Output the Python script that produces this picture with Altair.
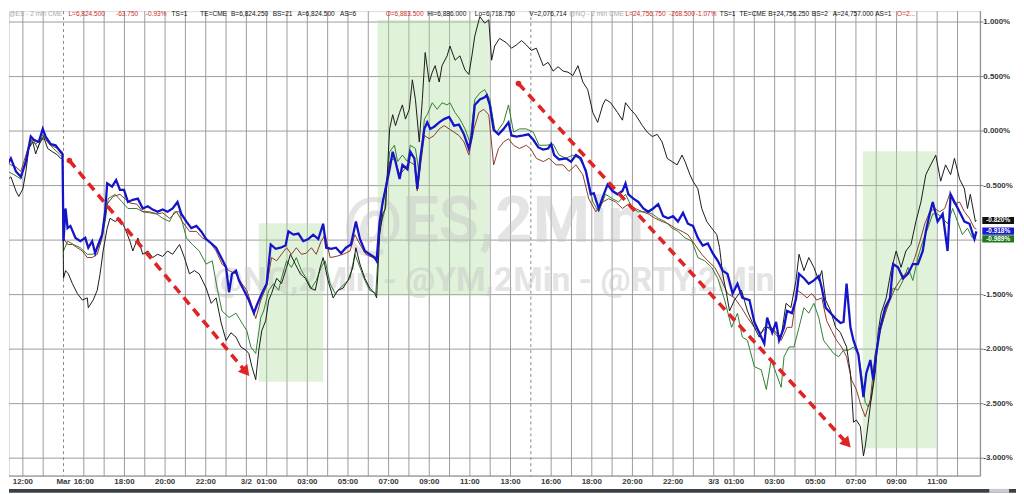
import altair as alt
import pandas as pd

# ---- series: (trading-hour index since Fri 12:00, % change) ----
es = [(-1.07,-0.28),(-0.83,-0.33),(-0.59,-0.25),(-0.34,-0.37),(-0.10,-0.42),(0.15,-0.28),(0.39,-0.05),(0.54,-0.08),(0.78,-0.10),(0.98,0.02),(1.12,-0.05),(1.37,-0.12),(1.61,-0.13),(1.85,-0.19),(1.95,-0.21),(2.00,-1.01),(2.10,-0.71),(2.20,-0.89),(2.34,-0.87),(2.59,-0.98),(2.83,-1.01),(3.07,-0.98),(3.22,-1.07),(3.41,-1.01),(3.56,-1.12),(3.71,-1.04),(3.90,-0.95),(4.05,-0.74),(4.15,-0.48),(4.39,-0.51),(4.59,-0.45),(4.78,-0.54),(4.98,-0.54),(5.17,-0.65),(5.41,-0.63),(5.66,-0.62),(5.90,-0.71),(6.15,-0.69),(6.39,-0.72),(6.63,-0.74),(6.88,-0.72),(7.12,-0.74),(7.37,-0.71),(7.61,-0.65),(7.80,-0.76),(8.05,-0.83),(8.29,-0.89),(8.54,-0.87),(8.78,-0.92),(9.02,-0.99),(9.27,-1.03),(9.51,-1.07),(9.76,-1.16),(10.00,-1.25),(10.15,-1.48),(10.29,-1.31),(10.49,-1.28),(10.63,-1.37),(10.88,-1.46),(11.12,-1.55),(11.37,-1.67),(11.51,-1.60),(11.76,-1.49),(12.00,-1.40),(12.20,-1.04),(12.44,-1.08),(12.68,-1.07),(12.93,-1.05),(13.07,-0.92),(13.32,-0.95),(13.56,-0.94),(13.80,-1.01),(14.05,-0.99),(14.29,-0.95),(14.54,-0.99),(14.78,-0.85),(14.93,-1.07),(15.17,-1.08),(15.41,-1.07),(15.66,-1.12),(15.90,-1.07),(16.15,-1.04),(16.39,-0.83),(16.59,-0.99),(16.83,-1.10),(17.07,-1.13),(17.32,-1.16),(17.41,-1.19),(17.56,-0.83),(17.71,-0.65),(17.85,-0.53),(18.05,-0.35),(18.20,-0.19),(18.34,-0.28),(18.54,-0.44),(18.68,-0.31),(18.93,-0.35),(19.07,-0.19),(19.27,-0.25),(19.41,-0.53),(19.56,-0.25),(19.76,0.02),(19.90,0.08),(20.05,0.02),(20.24,0.04),(20.49,0.08),(20.73,0.11),(20.98,0.13),(21.22,0.05),(21.46,0.06),(21.71,-0.03),(21.95,-0.16),(22.10,-0.04),(22.24,0.24),(22.49,0.29),(22.73,0.31),(22.83,0.33),(22.98,0.24),(23.17,0.01),(23.41,-0.03),(23.66,0.02),(23.90,0.08),(24.05,-0.04),(24.29,-0.05),(24.63,-0.04),(24.88,-0.03),(25.12,-0.08),(25.37,-0.15),(25.61,-0.17),(25.85,-0.16),(26.00,-0.12),(26.15,-0.22),(26.39,-0.26),(26.73,-0.25),(26.98,-0.28),(27.22,-0.22),(27.46,-0.25),(27.71,-0.37),(27.95,-0.58),(28.10,-0.57),(28.34,-0.71),(28.59,-0.58),(28.78,-0.49),(29.02,-0.55),(29.27,-0.58),(29.51,-0.55),(29.66,-0.48),(29.80,-0.58),(30.05,-0.62),(30.29,-0.65),(30.54,-0.71),(30.78,-0.74),(31.02,-0.71),(31.27,-0.67),(31.51,-0.78),(31.76,-0.80),(32.00,-0.78),(32.24,-0.83),(32.49,-0.75),(32.73,-0.85),(32.98,-0.87),(33.22,-0.98),(33.46,-1.05),(33.71,-1.03),(33.95,-1.12),(34.20,-1.19),(34.44,-1.28),(34.68,-1.31),(34.93,-1.49),(35.17,-1.40),(35.41,-1.53),(35.76,-1.55),(36.00,-1.75),(36.24,-1.85),(36.49,-1.95),(36.63,-1.71),(36.88,-1.85),(37.07,-1.75),(37.22,-1.92),(37.46,-1.80),(37.61,-1.65),(37.85,-1.67),(38.05,-1.54),(38.20,-1.31),(38.44,-1.35),(38.68,-1.40),(38.93,-1.37),(39.17,-1.33),(39.32,-1.44),(39.51,-1.62),(39.76,-1.67),(40.00,-1.72),(40.24,-1.76),(40.39,-1.75),(40.54,-1.40),(40.73,-1.80),(40.88,-1.92),(41.12,-2.05),(41.37,-2.44),(41.51,-2.22),(41.71,-2.10),(41.85,-2.28),(42.00,-2.04),(42.20,-1.80),(42.44,-1.62),(42.68,-1.53),(42.83,-1.22),(43.07,-1.25),(43.32,-1.35),(43.56,-1.31),(43.80,-1.22),(44.05,-1.22),(44.29,-1.10),(44.44,-0.92),(44.63,-0.76),(44.78,-0.65),(45.02,-0.83),(45.27,-0.76),(45.51,-1.10),(45.66,-0.58),(45.85,-0.65),(46.10,-0.74),(46.34,-0.83),(46.59,-0.85),(46.83,-0.99),(46.93,-0.92)]

nq = [(-1.07,-0.37),(-0.83,-0.46),(-0.59,-0.42),(-0.34,-0.55),(-0.20,-0.60),(0.0,-0.53),(0.15,-0.37),(0.29,-0.16),(0.49,-0.10),(0.63,-0.21),(0.78,-0.13),(1.02,-0.05),(1.22,-0.16),(1.46,-0.19),(1.71,-0.22),(1.85,-0.25),(1.95,-0.25),(2.00,-1.35),(2.10,-1.28),(2.24,-1.31),(2.44,-1.40),(2.68,-1.49),(2.93,-1.55),(3.17,-1.53),(3.22,-1.62),(3.46,-1.55),(3.66,-1.46),(3.80,-1.31),(3.95,-1.10),(4.15,-0.89),(4.29,-0.80),(4.54,-0.83),(4.78,-0.80),(5.02,-0.89),(5.27,-1.01),(5.41,-1.10),(5.66,-0.98),(5.90,-1.13),(6.15,-1.10),(6.39,-1.16),(6.63,-1.13),(6.88,-1.15),(7.12,-1.10),(7.37,-1.13),(7.71,-1.04),(7.95,-1.16),(8.20,-1.31),(8.44,-1.28),(8.68,-1.31),(9.02,-1.44),(9.27,-1.58),(9.51,-1.53),(9.76,-1.76),(10.00,-1.92),(10.24,-1.85),(10.49,-1.89),(10.73,-1.98),(10.98,-2.01),(11.12,-2.04),(11.27,-2.16),(11.46,-2.28),(11.61,-2.01),(11.76,-1.83),(11.95,-1.74),(12.10,-1.55),(12.24,-1.49),(12.49,-1.35),(12.73,-1.40),(12.98,-1.25),(13.17,-1.13),(13.41,-1.22),(13.66,-1.31),(13.90,-1.35),(14.15,-1.44),(14.39,-1.46),(14.63,-1.25),(14.78,-1.16),(15.02,-1.37),(15.27,-1.53),(15.51,-1.46),(15.76,-1.44),(16.00,-1.37),(16.24,-1.25),(16.39,-1.07),(16.59,-1.22),(16.83,-1.35),(17.07,-1.44),(17.32,-1.49),(17.41,-1.53),(17.56,-0.95),(17.71,-0.76),(17.85,-0.71),(18.05,0.02),(18.20,0.15),(18.34,0.05),(18.54,0.17),(18.68,0.24),(18.83,0.11),(19.02,0.20),(19.17,0.47),(19.32,0.29),(19.51,-0.10),(19.66,0.29),(19.80,0.72),(20.00,0.45),(20.15,0.54),(20.29,0.60),(20.49,0.45),(20.63,0.60),(20.88,0.69),(21.02,0.78),(21.27,0.65),(21.51,0.69),(21.76,0.56),(21.95,0.52),(22.10,0.69),(22.24,0.87),(22.49,1.05),(22.73,0.99),(22.93,1.02),(23.07,0.65),(23.22,0.78),(23.46,0.85),(23.80,0.81),(24.05,0.76),(24.29,0.79),(24.54,0.83),(24.78,0.79),(25.02,0.74),(25.27,0.76),(25.61,0.60),(25.85,0.63),(26.10,0.55),(26.34,0.59),(26.59,0.55),(26.83,0.54),(27.07,0.51),(27.32,0.60),(27.56,0.45),(27.80,0.38),(28.05,0.17),(28.29,0.08),(28.54,0.24),(28.68,0.29),(28.93,0.26),(29.27,0.17),(29.51,0.10),(29.66,0.26),(29.90,0.20),(30.15,0.15),(30.49,0.05),(30.73,-0.01),(30.98,-0.05),(31.22,-0.03),(31.46,-0.10),(31.71,-0.25),(31.95,-0.28),(32.20,-0.31),(32.44,-0.22),(32.59,-0.28),(32.83,-0.40),(32.98,-0.46),(33.22,-0.53),(33.41,-0.71),(33.66,-0.83),(33.90,-0.89),(34.15,-0.95),(34.29,-1.07),(34.44,-1.31),(34.63,-1.49),(34.78,-1.65),(35.02,-1.55),(35.37,-1.46),(35.66,-1.65),(36.00,-1.80),(36.24,-1.89),(36.49,-1.80),(36.83,-1.80),(37.07,-1.85),(37.32,-1.89),(37.56,-1.58),(37.80,-1.62),(38.05,-1.37),(38.20,-1.13),(38.44,-1.28),(38.68,-1.16),(38.93,-1.25),(39.17,-1.37),(39.32,-1.28),(39.51,-1.55),(39.76,-1.65),(40.00,-1.80),(40.24,-1.85),(40.54,-1.98),(40.73,-2.22),(40.88,-2.67),(41.02,-2.65),(41.22,-2.71),(41.37,-2.98),(41.46,-2.89),(41.61,-2.67),(41.76,-2.44),(41.95,-2.19),(42.10,-1.83),(42.24,-1.67),(42.49,-1.53),(42.73,-1.28),(42.98,-1.10),(43.22,-1.25),(43.46,-1.10),(43.71,-1.04),(43.95,-0.83),(44.20,-0.65),(44.44,-0.40),(44.68,-0.31),(44.93,-0.22),(45.17,-0.46),(45.41,-0.31),(45.66,-0.40),(45.85,-0.25),(46.10,-0.44),(46.34,-0.53),(46.49,-0.71),(46.63,-0.58),(46.88,-0.83),(46.93,-0.82)]

ym = [(-1.07,-0.15),(-0.83,-0.28),(-0.59,-0.31),(-0.34,-0.33),(-0.10,-0.37),(0.15,-0.22),(0.39,-0.08),(0.63,-0.12),(0.88,-0.07),(1.12,-0.08),(1.37,-0.13),(1.71,-0.16),(1.95,-0.19),(2.00,-0.98),(2.20,-1.04),(2.44,-1.04),(2.68,-1.07),(2.93,-1.10),(3.17,-1.16),(3.41,-1.16),(3.66,-1.13),(3.90,-0.98),(4.15,-0.67),(4.44,-0.60),(4.78,-0.58),(5.02,-0.62),(5.27,-0.66),(5.61,-0.67),(5.90,-0.74),(6.24,-0.74),(6.59,-0.76),(6.88,-0.75),(7.22,-0.80),(7.56,-0.74),(7.85,-0.83),(8.20,-0.92),(8.54,-0.92),(8.83,-0.98),(9.17,-1.01),(9.51,-1.10),(9.80,-1.22),(10.15,-1.28),(10.49,-1.31),(10.78,-1.40),(11.02,-1.46),(11.27,-1.60),(11.46,-1.72),(11.71,-1.55),(12.00,-1.42),(12.24,-1.16),(12.49,-1.19),(12.73,-1.13),(12.98,-1.07),(13.22,-1.13),(13.46,-1.07),(13.71,-1.13),(13.95,-1.12),(14.20,-1.07),(14.44,-1.13),(14.68,-1.01),(14.88,-0.95),(15.12,-1.16),(15.41,-1.15),(15.76,-1.13),(16.10,-1.10),(16.34,-0.95),(16.59,-1.04),(16.88,-1.13),(17.22,-1.16),(17.41,-1.19),(17.71,-0.67),(18.05,-0.28),(18.29,-0.25),(18.54,-0.40),(18.78,-0.35),(19.02,-0.28),(19.27,-0.31),(19.41,-0.55),(19.76,-0.04),(20.00,-0.07),(20.24,-0.04),(20.49,0.02),(20.73,0.05),(20.98,0.02),(21.22,-0.01),(21.46,-0.04),(21.71,-0.10),(21.95,-0.22),(22.20,0.02),(22.44,0.17),(22.68,0.20),(22.93,0.15),(23.17,-0.31),(23.41,-0.16),(23.66,-0.10),(23.90,-0.07),(24.15,-0.13),(24.44,-0.16),(24.78,-0.13),(25.02,-0.17),(25.27,-0.25),(25.61,-0.28),(25.90,-0.25),(26.24,-0.31),(26.59,-0.31),(26.88,-0.37),(27.22,-0.31),(27.56,-0.40),(27.85,-0.62),(28.20,-0.74),(28.54,-0.65),(28.83,-0.62),(29.17,-0.65),(29.51,-0.71),(29.80,-0.67),(30.15,-0.71),(30.49,-0.74),(30.78,-0.76),(31.12,-0.80),(31.46,-0.83),(31.76,-0.85),(32.10,-0.89),(32.44,-0.92),(32.73,-0.95),(33.07,-1.04),(33.41,-1.13),(33.71,-1.19),(34.05,-1.25),(34.39,-1.37),(34.68,-1.49),(35.02,-1.53),(35.37,-1.62),(35.66,-1.71),(36.00,-1.80),(36.34,-1.85),(36.63,-1.80),(36.98,-1.85),(37.32,-1.92),(37.61,-1.80),(37.85,-1.80),(38.10,-1.46),(38.34,-1.49),(38.59,-1.53),(38.83,-1.49),(39.07,-1.55),(39.32,-1.53),(39.56,-1.74),(39.80,-1.83),(40.05,-1.92),(40.29,-1.98),(40.54,-2.07),(40.78,-2.28),(41.02,-2.37),(41.27,-2.53),(41.46,-2.62),(41.71,-2.46),(41.95,-2.04),(42.20,-1.83),(42.44,-1.67),(42.68,-1.55),(42.93,-1.44),(43.17,-1.37),(43.41,-1.31),(43.66,-1.28),(43.90,-1.16),(44.15,-1.01),(44.39,-0.85),(44.63,-0.74),(44.88,-0.71),(45.12,-0.74),(45.37,-0.71),(45.61,-0.58),(45.85,-0.67),(46.10,-0.65),(46.34,-0.74),(46.59,-0.80),(46.83,-0.89),(46.93,-0.90)]

rty = [(-1.07,-0.28),(-0.73,-0.37),(-0.44,-0.40),(-0.10,-0.44),(0.24,-0.19),(0.49,-0.07),(0.73,-0.16),(0.98,-0.03),(1.22,-0.10),(1.51,-0.16),(1.85,-0.22),(1.95,-0.24),(2.00,-1.10),(2.20,-1.01),(2.49,-1.04),(2.83,-1.07),(3.17,-1.13),(3.46,-1.13),(3.80,-1.04),(4.05,-0.83),(4.20,-0.62),(4.54,-0.58),(4.88,-0.65),(5.17,-0.71),(5.61,-0.71),(5.90,-0.74),(6.24,-0.75),(6.59,-0.76),(6.88,-0.80),(7.22,-0.83),(7.46,-0.74),(7.71,-0.74),(8.05,-0.98),(8.34,-1.04),(8.68,-1.10),(9.02,-1.22),(9.32,-1.19),(9.56,-1.44),(9.80,-1.65),(10.15,-1.71),(10.49,-1.67),(10.78,-1.76),(11.02,-1.83),(11.22,-1.98),(11.46,-2.04),(11.71,-1.71),(11.85,-1.65),(12.10,-1.46),(12.34,-1.40),(12.59,-1.46),(12.73,-1.35),(12.98,-1.19),(13.22,-1.25),(13.46,-1.16),(13.71,-1.28),(13.95,-1.35),(14.20,-1.44),(14.44,-1.37),(14.68,-1.25),(14.88,-1.19),(15.12,-1.40),(15.37,-1.49),(15.61,-1.44),(15.85,-1.40),(16.10,-1.35),(16.34,-1.13),(16.59,-1.25),(16.83,-1.37),(17.07,-1.46),(17.37,-1.49),(17.56,-0.89),(17.80,-0.74),(18.05,-0.19),(18.29,-0.13),(18.44,-0.28),(18.68,-0.22),(18.93,-0.28),(19.07,-0.13),(19.32,-0.16),(19.51,-0.40),(19.76,0.11),(19.90,0.15),(20.15,0.26),(20.39,0.20),(20.63,0.26),(20.88,0.24),(21.02,0.26),(21.27,0.17),(21.51,0.11),(21.76,0.02),(22.00,-0.10),(22.24,0.29),(22.49,0.35),(22.73,0.38),(22.98,0.29),(23.22,0.02),(23.32,-0.01),(23.66,0.08),(23.90,0.24),(24.15,-0.01),(24.44,0.02),(24.78,0.02),(25.12,-0.01),(25.41,-0.13),(25.76,-0.13),(26.10,-0.12),(26.39,-0.22),(26.73,-0.25),(27.07,-0.22),(27.37,-0.25),(27.71,-0.35),(28.05,-0.65),(28.34,-0.74),(28.68,-0.58),(29.02,-0.62),(29.32,-0.65),(29.66,-0.58),(30.00,-0.71),(30.29,-0.74),(30.63,-0.74),(30.98,-0.76),(31.27,-0.80),(31.61,-0.83),(31.95,-0.89),(32.24,-0.92),(32.59,-0.98),(32.93,-1.01),(33.22,-1.16),(33.56,-1.19),(33.90,-1.25),(34.20,-1.35),(34.54,-1.55),(34.88,-1.80),(35.17,-1.67),(35.41,-1.89),(35.66,-1.92),(36.00,-2.16),(36.34,-2.19),(36.59,-2.37),(36.83,-2.10),(37.07,-2.22),(37.32,-2.35),(37.46,-2.07),(37.71,-1.98),(37.95,-1.98),(38.20,-1.80),(38.44,-1.62),(38.68,-1.67),(38.93,-1.58),(39.17,-1.71),(39.41,-1.92),(39.66,-1.98),(39.90,-2.04),(40.15,-2.07),(40.39,-2.01),(40.63,-2.01),(40.88,-1.98),(41.12,-2.04),(41.27,-2.22),(41.46,-2.49),(41.61,-2.53),(41.76,-2.46),(41.95,-2.22),(42.10,-1.89),(42.34,-1.74),(42.59,-1.58),(42.83,-1.44),(43.07,-1.46),(43.32,-1.37),(43.56,-1.25),(43.80,-1.37),(44.05,-1.16),(44.29,-1.01),(44.54,-0.89),(44.78,-0.76),(45.02,-0.76),(45.27,-0.80),(45.51,-0.85),(45.76,-0.71),(46.00,-0.83),(46.24,-0.95),(46.49,-0.89),(46.73,-0.98),(46.93,-0.99)]

# shaded boxes (hours, %)
box_t1 = [11.61, 17.46, 41.33]
box_t2 = [14.78, 22.93, 44.94]
box_v1 = [-0.845, 1.018, -0.185]
box_v2 = [-2.30, -1.509, -2.91]

# dashed arrows: start and head (hours, %), head rotation in degrees
arrow_t0 = [2.29, 24.39]
arrow_v0 = [-0.27, 0.436]
arrow_t1 = [10.98, 40.57]
arrow_v1 = [-2.21, -2.866]
arrow_angle = [140.6, 137.6]

session_breaks = [2, 25]

tick_h = [0, 2, 3, 5, 7, 9, 11, 12, 14, 16, 18, 20, 22, 24, 26, 28, 30, 32, 34, 35, 37, 39, 41, 43, 45]
tick_lbl = ["12:00", "Mar", "16:00", "18:00", "20:00", "22:00", "3/2", "01:00", "03:00", "05:00",
            "07:00", "09:00", "11:00", "13:00", "16:00", "18:00", "20:00", "22:00", "3/3", "01:00",
            "03:00", "05:00", "07:00", "09:00", "11:00"]

y_ticks = [1.0, 0.5, 0.0, -0.5, -1.0, -1.5, -2.0, -2.5, -3.0]
# the -1.000% label sits under the last-value boxes in the reference
y_labelled = [1.0, 0.5, 0.0, -0.5, -1.5, -2.0, -2.5, -3.0]

last_lbl = ["-0.989%", "-0.918%", "-0.820%"]
last_val = [-0.989, -0.918, -0.820]
last_col = ["#1e7a1e", "#1a1acc", "#111111"]

header_txt = ["@ES - 2 min CME", "L=6,824.500", "-63.750", "-0.93%", "TS=1", "TE=CME", "B=6,824.250",
              "BS=21", "A=6,824.500", "AS=6", "O=6,883.500", "Hi=6,886.000", "Lo=6,718.750",
              "V=2,076,714", "@NQ - 2 min CME", "L=24,756.750", "-268.500", "-1.07%", "TS=1",
              "TE=CME", "B=24,756.250", "BS=2", "A=24,757.000", "AS=1", "O=2..."]
header_kind = ["g", "r", "r", "r", "k", "k", "k", "k", "k", "k", "r", "k", "k",
               "k", "g", "r", "r", "r", "k", "k", "k", "k", "k", "k", "r"]
header_px = [0, 60, 108, 138, 164, 193, 224, 266, 291, 334, 380, 422, 470,
             525, 565, 622, 666, 693, 717, 737, 766, 810, 831, 874, 896]
kind_col = {"g": "#aaaaaa", "r": "#cc2f2f", "k": "#111111"}

watermark = ["@ES,2Min", "@NQ,2Min - @YM,2Min - @RTY,2Min"]

# ---------------------------------------------------------------
W, H = 980, 469
XS = alt.Scale(domain=[-0.683, 47.122], nice=False, zero=False)
YS = alt.Scale(domain=[-3.1636, 1.1], nice=False, zero=False)
grid_hours = [h for h in range(0, 47) if h not in session_breaks]
FONT = "Liberation Sans"
GRID = "#9c9c9c"


def frame(pairs):
    return pd.DataFrame(pairs, columns=["t", "v"])


def X(f):
    return alt.X(f, scale=XS, axis=None, title=None)


def Y(f):
    return alt.Y(f, scale=YS, axis=None, title=None)


dummy = pd.DataFrame({"k": [0]})

vgrid = alt.Chart(pd.DataFrame({"t": grid_hours})).mark_rule(color=GRID, strokeWidth=1).encode(x=X("t:Q"))
hgrid = alt.Chart(pd.DataFrame({"v": y_ticks})).mark_rule(color=GRID, strokeWidth=1).encode(y=Y("v:Q"))
breaks = alt.Chart(pd.DataFrame({"t": session_breaks})).mark_rule(
    color="#8a8a8a", strokeWidth=1, strokeDash=[3, 3]).encode(x=X("t:Q"))

right_axis = alt.Chart(dummy).mark_rule(color="#808080", strokeWidth=1).encode(
    x=alt.value(W), y=alt.value(0), y2=alt.value(H))
bottom_axis = alt.Chart(dummy).mark_rule(color="#808080", strokeWidth=1).encode(
    x=alt.value(0), x2=alt.value(W), y=alt.value(H))
yticks = alt.Chart(pd.DataFrame({"v": y_ticks})).mark_rule(color="#808080", strokeWidth=1).encode(
    y=Y("v:Q"), x=alt.value(W), x2=alt.value(W + 3))
ylabels = alt.Chart(pd.DataFrame({"v": y_labelled})).transform_calculate(
    s="(datum.v < 0 ? '-' : '') + format(abs(datum.v), '.3f') + '%'").mark_text(
    font=FONT, fontSize=8, fontWeight="bold", color="#3a3a3a", align="left", baseline="middle").encode(
    x=alt.value(W + 3), y=Y("v:Q"), text="s:N")

boxes_df = pd.DataFrame({"t1": box_t1, "t2": box_t2, "v1": box_v1, "v2": box_v2})
boxes = alt.Chart(boxes_df).mark_rect(color="#a8dc98", opacity=0.36).encode(
    x=X("t1:Q"), x2="t2:Q", y=Y("v1:Q"), y2="v2:Q")

wm1 = alt.Chart(pd.DataFrame({"s": [watermark[0]]})).mark_text(
    font="Roboto", fontWeight="bold", fontSize=66, color="#c4c4c4", opacity=0.45,
    align="center", baseline="middle").encode(text="s:N", x=alt.value(489), y=alt.value(213))
wm2 = alt.Chart(pd.DataFrame({"s": [watermark[1]]})).mark_text(
    font="Roboto", fontWeight="bold", fontSize=34, color="#c4c4c4", opacity=0.45,
    align="center", baseline="middle").encode(text="s:N", x=alt.value(489), y=alt.value(272))


def line(pairs, color, width):
    return alt.Chart(frame(pairs)).mark_line(color=color, strokeWidth=width, clip=True).encode(
        x=X("t:Q"), y=Y("v:Q"))


l_rty = line(rty, "#2f7f2f", 1)
l_ym = line(ym, "#8a3b2b", 1)
l_nq = line(nq, "#1a1a1a", 1)
l_es = line(es, "#1414c8", 2.3)

arr_df = pd.DataFrame({"t0": arrow_t0, "v0": arrow_v0, "t1": arrow_t1, "v1": arrow_v1, "a": arrow_angle})
arr_line = alt.Chart(arr_df).mark_rule(color="#e02424", strokeWidth=3.6, strokeDash=[9, 6]).encode(
    x=X("t0:Q"), y=Y("v0:Q"), x2="t1:Q", y2="v1:Q")
arr_dot = alt.Chart(arr_df).mark_point(shape="circle", filled=True, color="#e02424", size=32, opacity=1).encode(
    x=X("t0:Q"), y=Y("v0:Q"))
arr_head = alt.Chart(arr_df).mark_point(shape="triangle-up", filled=True, color="#e02424", size=150, opacity=1).encode(
    x=X("t1:Q"), y=Y("v1:Q"), angle=alt.Angle("a:Q", scale=None))

xlab = alt.Chart(pd.DataFrame({"t": tick_h, "s": tick_lbl})).mark_text(
    font=FONT, fontSize=8, fontWeight="bold", color="#3a3a3a", baseline="middle", align="center").encode(
    x=X("t:Q"), y=alt.value(475), text="s:N")

last_df = pd.DataFrame({"v": last_val, "s": last_lbl, "c": last_col})
last_box = alt.Chart(last_df).transform_calculate(
    top="datum.v + 0.033", bot="datum.v - 0.033").mark_rect().encode(
    x=alt.value(982), x2=alt.value(1014), y=Y("top:Q"), y2="bot:Q",
    color=alt.Color("c:N", scale=None))
last_txt = alt.Chart(last_df).mark_text(
    font=FONT, fontSize=6.5, fontWeight="bold", color="white", align="center", baseline="middle").encode(
    x=alt.value(998), y=Y("v:Q"), text="s:N")

header_layers = []
for txt, kind, px in zip(header_txt, header_kind, header_px):
    header_layers.append(
        alt.Chart(pd.DataFrame({"s": [txt]})).mark_text(
            font=FONT, fontSize=6.6, color=kind_col[kind], align="left", baseline="top").encode(
            text="s:N", x=alt.value(px), y=alt.value(0)))

scroll = alt.Chart(dummy).mark_rect(color="#3b4046").encode(
    x=alt.value(0), x2=alt.value(1016), y=alt.value(482), y2=alt.value(486))
scroll_thumb = alt.Chart(dummy).mark_rect(color="#c8ccd0").encode(
    x=alt.value(989), x2=alt.value(1009), y=alt.value(482), y2=alt.value(486))

chart = alt.layer(
    vgrid, hgrid, breaks, boxes, wm1, wm2, right_axis, bottom_axis, yticks, ylabels,
    l_rty, l_ym, l_nq, l_es,
    arr_line, arr_dot, arr_head, xlab, last_box, last_txt, scroll, scroll_thumb,
    *header_layers
).properties(
    width=W, height=H, padding={"left": 0, "top": 0, "right": 0, "bottom": 0}
).configure_view(stroke=None).configure(background="white")

chart.save("out.html", embed_options={"renderer": "svg", "actions": False})
